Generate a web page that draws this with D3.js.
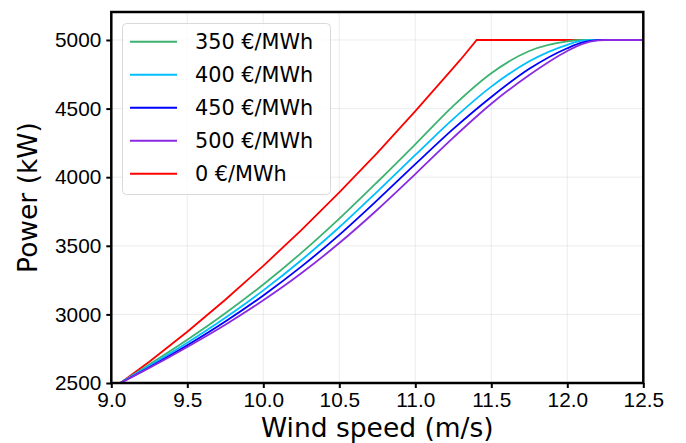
<!DOCTYPE html>
<meta charset="utf-8">
<style>

body {
  margin: 0;
  background: #fff;
}

svg {
  font-family: "DejaVu Sans", sans-serif;
}

.grid line {
  stroke: #b0b0b0;
  stroke-opacity: 0.3;
  stroke-width: 0.8;
}

.curves path {
  fill: none;
  stroke-width: 1.8;
}

.axis text {
  font-size: 20.8px;
  fill: #000;
}

</style>
<svg id="chart" width="686" height="443"></svg>
<script src="https://d3js.org/d3.v7.min.js"></script>
<script>

// wind speeds (m/s) at which the curves were read
var wind = [9.06, 9.25, 9.5, 9.75, 10.0, 10.25, 10.5, 10.75, 11.0, 11.25, 11.5, 11.75, 12.0, 12.1, 12.2, 12.25, 12.5];

// power (kW) per price
var p350 = [2500, 2635, 2815, 3008, 3218, 3448, 3698, 3965, 4240, 4520, 4758, 4920, 4990, 5000, 5000, 5000, 5000];
var p400 = [2500, 2625, 2793, 2975, 3175, 3395, 3635, 3895, 4162, 4425, 4660, 4845, 4965, 4995, 5000, 5000, 5000];
var p450 = [2500, 2615, 2775, 2948, 3138, 3348, 3580, 3833, 4095, 4352, 4585, 4790, 4940, 4982, 4999, 5000, 5000];
var p500 = [2500, 2610, 2763, 2925, 3103, 3300, 3520, 3763, 4023, 4288, 4535, 4745, 4920, 4972, 4997, 5000, 5000];

// the 0 €/MWh curve is read on its own grid (it hits rated power early)
var windRed = [9.06, 9.25, 9.5, 9.75, 10.0, 10.25, 10.5, 10.75, 11.0, 11.25, 11.3, 11.404, 12.5];
var p0 = [2500, 2655, 2874, 3107, 3354, 3614, 3890, 4178, 4481, 4797, 4860, 5000, 5000];

var xTicks = [9.0, 9.5, 10.0, 10.5, 11.0, 11.5, 12.0, 12.5];
var yTicks = [2500, 3000, 3500, 4000, 4500, 5000];

var series = [
  {label: "350 €/MWh", color: "#3cb371", x: wind, y: p350, curve: d3.curveMonotoneX},
  {label: "400 €/MWh", color: "#00bfff", x: wind, y: p400, curve: d3.curveMonotoneX},
  {label: "450 €/MWh", color: "#0000ff", x: wind, y: p450, curve: d3.curveMonotoneX},
  {label: "500 €/MWh", color: "#8a2be2", x: wind, y: p500, curve: d3.curveMonotoneX},
  {label: "0 €/MWh", color: "#ff0000", x: windRed, y: p0, curve: d3.curveLinear}
];

var svg = d3.select("#chart");

var plotL = 111.3, plotR = 643.3, plotT = 12, plotB = 383;

var x = d3.scaleLinear().domain([9, 12.5]).range([plotL, plotR]);
var y = d3.scaleLinear().domain([2500, 5204]).range([plotB, plotT]);

// grid
var grid = svg.append("g").attr("class", "grid");
grid.selectAll(".gx")
  .data(xTicks)
  .enter().append("line")
    .attr("x1", function(d) { return x(d); })
    .attr("x2", function(d) { return x(d); })
    .attr("y1", plotT)
    .attr("y2", plotB);
grid.selectAll(".gy")
  .data(yTicks)
  .enter().append("line")
    .attr("x1", plotL)
    .attr("x2", plotR)
    .attr("y1", function(d) { return y(d); })
    .attr("y2", function(d) { return y(d); });

// curves: red first so the others sit on top at rated power
var drawOrder = [series[4], series[0], series[1], series[2], series[3]];

svg.append("defs").append("clipPath")
    .attr("id", "clip")
  .append("rect")
    .attr("x", plotL)
    .attr("y", plotT)
    .attr("width", plotR - plotL)
    .attr("height", plotB - plotT);

svg.append("g")
    .attr("class", "curves")
    .attr("clip-path", "url(#clip)")
  .selectAll("path")
  .data(drawOrder)
  .enter().append("path")
    .attr("stroke", function(d) { return d.color; })
    .attr("d", function(d) {
      var line = d3.line()
          .curve(d.curve)
          .x(function(p) { return x(p[0]); })
          .y(function(p) { return y(p[1]); });
      return line(d.x.map(function(v, i) { return [v, d.y[i]]; }));
    });

// axes
svg.append("g")
    .attr("class", "axis")
    .attr("transform", "translate(0," + plotB + ")")
    .call(d3.axisBottom(x).tickValues(xTicks).tickFormat(d3.format(".1f")).tickSizeOuter(0).tickSize(5).tickPadding(4));

svg.append("g")
    .attr("class", "axis")
    .attr("transform", "translate(" + plotL + ",0)")
    .call(d3.axisLeft(y).tickValues(yTicks).tickFormat(d3.format("d")).tickSizeOuter(0).tickSize(5).tickPadding(5));

svg.selectAll(".axis .domain").remove();
svg.selectAll(".axis .tick line").attr("stroke", "#000").attr("stroke-width", 2);

// frame
svg.append("rect")
    .attr("x", plotL)
    .attr("y", plotT)
    .attr("width", plotR - plotL)
    .attr("height", plotB - plotT)
    .attr("fill", "none")
    .attr("stroke", "#000")
    .attr("stroke-width", 2.5);

// axis titles
svg.append("text")
    .attr("x", (plotL + plotR) / 2)
    .attr("y", 437)
    .attr("text-anchor", "middle")
    .attr("font-size", "26.5px")
    .text("Wind speed (m/s)");

svg.append("text")
    .attr("transform", "translate(37," + ((plotT + plotB) / 2) + ") rotate(-90)")
    .attr("text-anchor", "middle")
    .attr("font-size", "26.5px")
    .text("Power (kW)");

// legend
var legend = svg.append("g");
legend.append("rect")
    .attr("x", 122.5)
    .attr("y", 23.5)
    .attr("width", 208)
    .attr("height", 171)
    .attr("rx", 4)
    .attr("fill", "#fff")
    .attr("fill-opacity", 0.8)
    .attr("stroke", "#d9d9d9")
    .attr("stroke-width", 1);

var item = legend.selectAll(".item")
  .data(series)
  .enter().append("g")
    .attr("transform", function(d, i) { return "translate(0," + (41.7 + i * 33) + ")"; });

item.append("line")
    .attr("x1", 130)
    .attr("x2", 177)
    .attr("stroke", function(d) { return d.color; })
    .attr("stroke-width", 2);

item.append("text")
    .attr("x", 195)
    .attr("dy", "0.36em")
    .attr("font-size", "20.8px")
    .text(function(d) { return d.label; });

</script>
